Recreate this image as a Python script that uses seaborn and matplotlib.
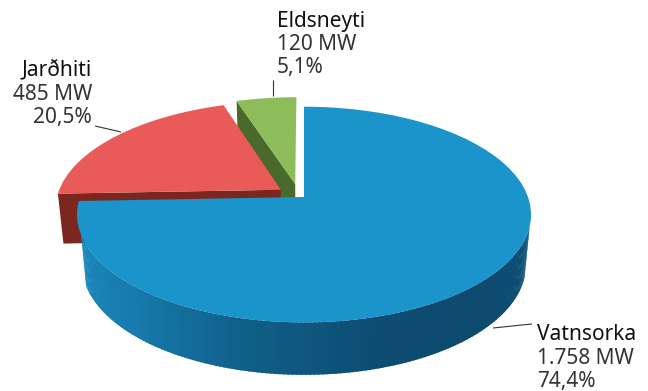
import numpy as np
import matplotlib
matplotlib.use("Agg")
import matplotlib.pyplot as plt
from matplotlib.transforms import Transform
import seaborn as sns

# Installed electrical capacity by source
sources = ["Vatnsorka", "Jarðhiti", "Eldsneyti"]
capacity_mw = [1758, 485, 120]
mw_labels = ["1.758 MW", "485 MW", "120 MW"]
share_labels = ["74,4%", "20,5%", "5,1%"]

top_colors = ["#1b93cb", "#e95b59", "#8fbc5b"]
wall_colors = [None, "#7c2620", "#4a6a2b"]
offsets = [(0.0, 0.0), (-0.105, 0.07), (-0.04, 0.125)]


class Perspective(Transform):
    """Projects the unit disk of the pie onto a tilted plane, in pixel space."""
    input_dims = output_dims = 2
    is_separable = False
    has_inverse = False

    def __init__(self, cx, cy, rx, ry, tilt=0.163):
        super().__init__()
        self.cx, self.cy, self.rx, self.ry, self.tilt = cx, cy, rx, ry, tilt

    def transform_non_affine(self, values):
        xy = np.asarray(values, dtype=float)
        w = 1 + self.tilt * xy[:, 1]
        return np.column_stack([self.cx + self.rx * xy[:, 0] / w,
                                self.cy - self.ry * xy[:, 1] / w])


upper = Perspective(304, 197, 224, 105)
lower = Perspective(304, 247, 219, 107)


def ring(theta, center=(0.0, 0.0), r=1.0):
    t = np.radians(theta)
    return np.column_stack([center[0] + r * np.cos(t), center[1] + r * np.sin(t)])


def wall(ax, unit_pts, color, zorder, lw=0.0):
    a = upper.transform_non_affine(unit_pts)
    b = lower.transform_non_affine(unit_pts)[::-1]
    poly = np.vstack([a, b])
    ax.fill(poly[:, 0], poly[:, 1], facecolor=color, edgecolor=color, lw=lw, zorder=zorder)


sns.set_theme(style="white")
plt.rcParams["font.family"] = ["Noto Sans", "DejaVu Sans"]

fig = plt.figure(figsize=(6.48, 3.91), dpi=100)
ax = fig.add_axes([0, 0, 1, 1])

wedges, _ = ax.pie(capacity_mw, startangle=90, counterclock=False,
                   colors=top_colors, wedgeprops={"linewidth": 0})
ax.set_aspect("auto")
ax.set_xlim(0, 648)
ax.set_ylim(391, 0)
ax.axis("off")

for wedge, off, z in zip(wedges, offsets, [10, 5, 4]):
    wedge.set_center(off)
    wedge.set_transform(upper + ax.transData)
    wedge.set_zorder(z)

# Rim of the large slice, shaded from the lit left side to the dark right side
steps = 150
edges = np.linspace(-160, -16, steps + 1)
rim = sns.blend_palette(["#1b88bb", "#177aab", "#0f5f88", "#0e4c72", "#0d4a6e", "#0f5078"], steps)
for t0, t1, c in zip(edges[:-1], edges[1:], rim):
    # Each strip overlaps the next one so no seams show
    wall(ax, ring(np.array([t0, t1 + 0.5])), c, 8, lw=0.0)

# Straight cut faces of the two pulled-out slices
red = wedges[1]
corner = ring(np.array([red.theta2]), offsets[1])
wall(ax, np.vstack([corner, [offsets[1]]]), wall_colors[1], 3)
green = wedges[2]
corner = ring(np.array([green.theta2]), offsets[2])
wall(ax, np.vstack([corner, [offsets[2]]]), wall_colors[2], 2)

# Labels: name, capacity and share of each source
name_kw = dict(fontsize=15, color="#111111", va="center", zorder=20)
value_kw = dict(fontsize=15, color="#333333", va="center", zorder=20, fontweight="light")
anchors = [(537, [335, 359, 382], "left"),
           (92, [70, 95, 117], "right"),
           (277, [22, 45, 68], "left")]
for name, mw, share, (x, ys, ha) in zip(sources, mw_labels, share_labels, anchors):
    ax.text(x, ys[0], name, ha=ha, **name_kw)
    ax.text(x, ys[1], mw, ha=ha, **value_kw)
    ax.text(x, ys[2], share, ha=ha, **value_kw)

# Leader lines from the labels to the slices
for xs, ys in [((493, 532), (328, 324)), ((95, 121), (126, 132)), ((273, 273), (80, 96))]:
    ax.plot(xs, ys, color="#333333", lw=0.8, zorder=20, solid_capstyle="butt")

fig.savefig("out.png", dpi=100, facecolor="white")
